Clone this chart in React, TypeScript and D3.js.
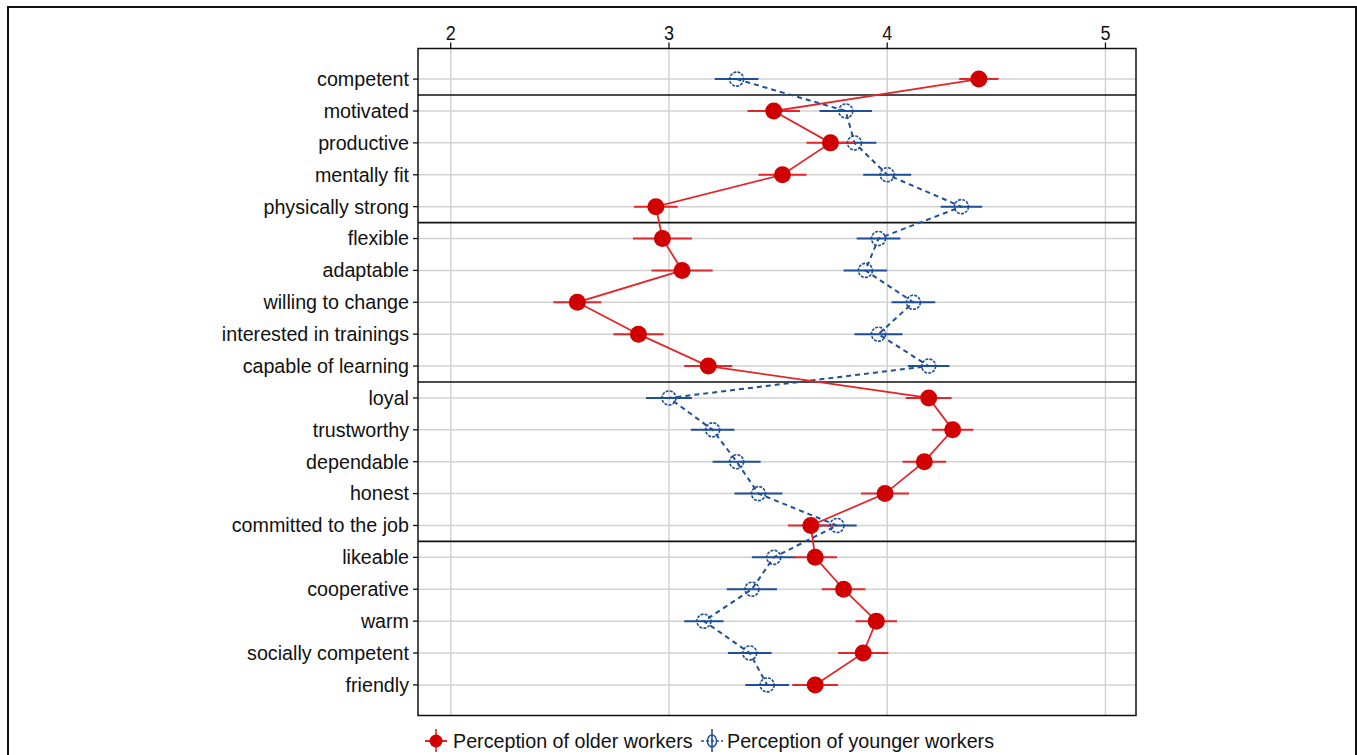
import React from "react";
import * as d3 from "d3";

const categories = [
  "competent", "motivated", "productive", "mentally fit", "physically strong",
  "flexible", "adaptable", "willing to change", "interested in trainings", "capable of learning",
  "loyal", "trustworthy", "dependable", "honest", "committed to the job",
  "likeable", "cooperative", "warm", "socially competent", "friendly",
];
const olderMeans = [4.42, 3.48, 3.74, 3.52, 2.94, 2.97, 3.06, 2.58, 2.86, 3.18, 4.19, 4.30, 4.17, 3.99, 3.65, 3.67, 3.80, 3.95, 3.89, 3.67];
const olderCI = [0.09, 0.12, 0.11, 0.11, 0.10, 0.135, 0.14, 0.11, 0.115, 0.11, 0.105, 0.095, 0.10, 0.11, 0.105, 0.10, 0.10, 0.095, 0.115, 0.105];
const youngerMeans = [3.31, 3.81, 3.85, 4.00, 4.34, 3.96, 3.90, 4.12, 3.96, 4.19, 3.00, 3.20, 3.31, 3.41, 3.77, 3.48, 3.38, 3.16, 3.37, 3.45];
const youngerCI = [0.10, 0.12, 0.10, 0.11, 0.095, 0.10, 0.10, 0.10, 0.11, 0.095, 0.105, 0.10, 0.11, 0.11, 0.09, 0.10, 0.115, 0.09, 0.10, 0.10];
const xTicks = [2, 3, 4, 5];
const groupEndsAfter = [0, 4, 9, 14];
const legendLabels = ["Perception of older workers", "Perception of younger workers"];

const W = 1357, H = 755;
const L = 418, R = 1136, T = 48.5, B = 715.5;
const RED = "#d10000";
const RED_LINE = "#e3262a";
const BLUE = "#1f4f97";
const FONT = "Liberation Sans, Arial, sans-serif";
const FS = 19.7;

export default function App() {
  const x = d3.scaleLinear().domain([1.85, 5.14]).range([L, R]);
  const y = d3.scaleLinear().domain([-0.96, categories.length - 1 + 0.96]).range([T, B]);
  const idx = categories.map((_, i) => i);
  const line = d3.line<number>();
  const redPath = line(idx.map((i) => [x(olderMeans[i]), y(i)]))!;
  const bluePath = line(idx.map((i) => [x(youngerMeans[i]), y(i)]))!;

  return (
    <svg width={W} height={H} style={{ position: "absolute", left: 0, top: 0, background: "#fff" }} fontFamily={FONT}>
      <rect x={8} y={7} width={1348} height={760} fill="none" stroke="#111" strokeWidth={2} />
      {/* grid */}
      {xTicks.map((t) => (
        <line key={"gx" + t} x1={x(t)} x2={x(t)} y1={T} y2={B} stroke="#d2d2d2" strokeWidth={1.5} />
      ))}
      {idx.map((i) => (
        <line key={"gy" + i} x1={L} x2={R} y1={y(i)} y2={y(i)} stroke="#d2d2d2" strokeWidth={1.5} />
      ))}
      {/* group separators */}
      {groupEndsAfter.map((g) => (
        <line key={"sep" + g} x1={L} x2={R} y1={y(g + 0.5)} y2={y(g + 0.5)} stroke="#111" strokeWidth={1.6} />
      ))}
      <rect x={L} y={T} width={R - L} height={B - T} fill="none" stroke="#111" strokeWidth={1.5} />
      {/* top axis */}
      {xTicks.map((t) => (
        <g key={"tx" + t}>
          <line x1={x(t)} x2={x(t)} y1={T} y2={T - 6} stroke="#111" strokeWidth={1.3} />
          <text x={x(t)} y={40} textAnchor="middle" fontSize={20.5} fill="#111" transform={`translate(${x(t)},40) scale(0.88,1) translate(${-x(t)},-40)`}>{t}</text>
        </g>
      ))}
      {/* left axis */}
      {idx.map((i) => (
        <g key={"ty" + i}>
          <line x1={L - 5} x2={L} y1={y(i)} y2={y(i)} stroke="#111" strokeWidth={1.3} />
          <text x={409} y={y(i)} dy="0.35em" textAnchor="end" fontSize={FS} fill="#111">{categories[i]}</text>
        </g>
      ))}
      {/* connecting lines */}
      <path d={bluePath} fill="none" stroke={BLUE} strokeWidth={2} strokeDasharray="5,4" />
      <path d={redPath} fill="none" stroke={RED_LINE} strokeWidth={1.8} />
      {/* error bars */}
      {idx.map((i) => (
        <line key={"eb" + i} x1={x(youngerMeans[i] - youngerCI[i])} x2={x(youngerMeans[i] + youngerCI[i])}
          y1={y(i)} y2={y(i)} stroke={BLUE} strokeWidth={2} />
      ))}
      {idx.map((i) => (
        <line key={"er" + i} x1={x(olderMeans[i] - olderCI[i])} x2={x(olderMeans[i] + olderCI[i])}
          y1={y(i)} y2={y(i)} stroke={RED_LINE} strokeWidth={2} />
      ))}
      {/* markers */}
      {idx.map((i) => (
        <circle key={"mb" + i} cx={x(youngerMeans[i])} cy={y(i)} r={7} fill="none" stroke={BLUE} strokeWidth={1.6} strokeDasharray="3,1.2" />
      ))}
      {idx.map((i) => (
        <circle key={"mr" + i} cx={x(olderMeans[i])} cy={y(i)} r={8.5} fill={RED} />
      ))}
      {/* legend */}
      <g>
        <line x1={425} x2={447} y1={741} y2={741} stroke={RED_LINE} strokeWidth={2} />
        <line x1={436} x2={436} y1={729} y2={752} stroke={RED_LINE} strokeWidth={1.6} />
        <circle cx={436} cy={741} r={6.5} fill={RED} />
        <text x={453} y={748} fontSize={FS} fill="#111">{legendLabels[0]}</text>
        <line x1={701} x2={723} y1={741} y2={741} stroke={BLUE} strokeWidth={1.6} strokeDasharray="3,2" />
        <line x1={712} x2={712} y1={729} y2={752} stroke={BLUE} strokeWidth={1.6} />
        <ellipse cx={712} cy={741} rx={4.5} ry={6} fill="none" stroke={BLUE} strokeWidth={1.4} />
        <text x={727} y={748} fontSize={FS} fill="#111">{legendLabels[1]}</text>
      </g>
    </svg>
  );
}
